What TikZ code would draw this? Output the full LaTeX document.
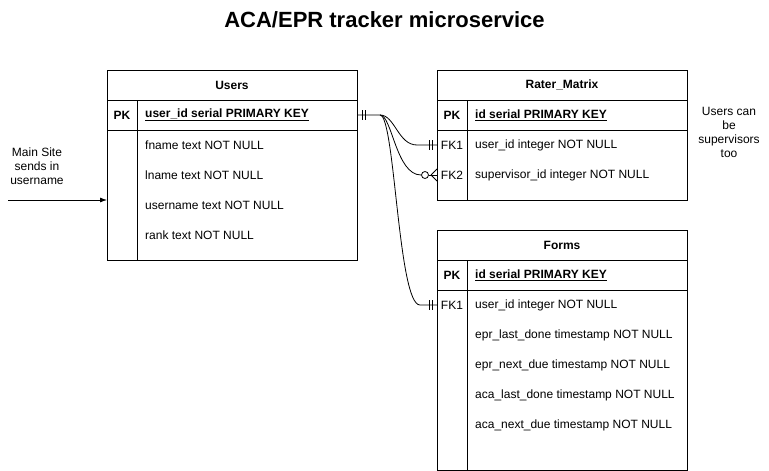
\documentclass[tikz,border=0pt]{standalone}
\usepackage{fontspec}
\setmainfont{Liberation Sans}
\usetikzlibrary{arrows.meta}
\begin{document}
\begin{tikzpicture}[x=1pt,y=-1pt,
  tbl/.style={draw,line width=0.8pt},
  ln/.style={line width=0.8pt},
  row/.style={anchor=west,inner sep=0pt,font=\fontsize{12}{14}\selectfont},
  hdr/.style={inner sep=0pt,font=\bfseries\fontsize{12}{14}\selectfont},
  key/.style={inner sep=0pt,font=\fontsize{12}{14}\selectfont},
  conn/.style={line width=0.8pt},
  note/.style={align=center,inner sep=0pt,font=\fontsize{12}{14}\selectfont}]
\useasboundingbox (0,0) rectangle (769,471);
\node[font=\bfseries\fontsize{22}{26}\selectfont,inner sep=0pt] (title) at (384.5,20) {ACA/EPR tracker microservice};

% Users table
\draw[tbl] (107,70) rectangle (357,260);
\draw[ln] (107,100) -- (357,100);
\draw[ln] (107,130) -- (357,130);
\draw[ln] (137,100) -- (137,260);
\node[hdr] (uh) at (232,85) {Users};
\node[hdr] (upk) at (122,115) {PK};
\node[row,font=\bfseries\fontsize{12}{14}\selectfont] (upkf) at (145,115) {\underline{user\_id serial PRIMARY KEY}};
\node[row] (u1) at (145,145) {fname text NOT NULL};
\node[row] (u2) at (145,175) {lname text NOT NULL};
\node[row] (u3) at (145,205) {username text NOT NULL};
\node[row] (u4) at (145,235) {rank text NOT NULL};
\coordinate (usrc) at (357,115);
\coordinate (uin) at (107,200);

% Rater_Matrix table
\draw[tbl] (437,70) rectangle (687,200);
\draw[ln] (437,100) -- (687,100);
\draw[ln] (437,130) -- (687,130);
\draw[ln] (467,100) -- (467,200);
\node[hdr] (rh) at (562,85) {Rater\_Matrix};
\node[hdr] (rpk) at (452,115) {PK};
\node[row,font=\bfseries\fontsize{12}{14}\selectfont] (rpkf) at (475,115) {\underline{id serial PRIMARY KEY}};
\node[key] (rfk1) at (452,145) {FK1};
\node[row] (r1) at (475,145) {user\_id integer NOT NULL};
\node[key] (rfk2) at (452,175) {FK2};
\node[row] (r2) at (475,175) {supervisor\_id integer NOT NULL};
\coordinate (rt1) at (437,145);
\coordinate (rt2) at (437,175);

% Forms table
\draw[tbl] (437,230) rectangle (687,470);
\draw[ln] (437,260) -- (687,260);
\draw[ln] (437,290) -- (687,290);
\draw[ln] (467,260) -- (467,470);
\node[hdr] (fh) at (562,245) {Forms};
\node[hdr] (fpk) at (452,275) {PK};
\node[row,font=\bfseries\fontsize{12}{14}\selectfont] (fpkf) at (475,275) {\underline{id serial PRIMARY KEY}};
\node[key] (ffk1) at (452,305) {FK1};
\node[row] (f1) at (475,305) {user\_id integer NOT NULL};
\node[row] (f2) at (475,335) {epr\_last\_done timestamp NOT NULL};
\node[row] (f3) at (475,365) {epr\_next\_due timestamp NOT NULL};
\node[row] (f4) at (475,395) {aca\_last\_done timestamp NOT NULL};
\node[row] (f5) at (475,425) {aca\_next\_due timestamp NOT NULL};
\coordinate (ft1) at (437,305);

% notes
\node[note] (main) at (37,166) {Main Site\\sends in\\username};
\node[note] (sup) at (729,132) {Users can\\be\\supervisors\\too};
\coordinate (arrstart) at (8,200);
\draw[conn,-{Latex[length=7pt,width=5pt]}] (arrstart) -- (uin);

% connectors
\draw[conn] (usrc) -- (380,115) .. controls (395,115) and (398,145) .. (417,145) -- (rt1);
\draw[conn] (380,115) .. controls (392,115) and (396,175) .. (421,175);
\draw[conn] (380,115) .. controls (395,115) and (398,305) .. (420,305) -- (ft1);
% source mandatory one
\draw[conn] (362,110) -- (362,120) (365,110) -- (365,120);
% FK1 mandatory one
\draw[conn] (429,140) -- (429,150) (432,140) -- (432,150);
\draw[conn] (429,300) -- (429,310) (432,300) -- (432,310);
% FK2 zero to many
\draw[conn] (425,175) circle (3.5);
\draw[conn] (428.5,175) -- (rt2);
\draw[conn] (431,175) -- (437,169) (431,175) -- (437,181);
\end{tikzpicture}
\end{document}
